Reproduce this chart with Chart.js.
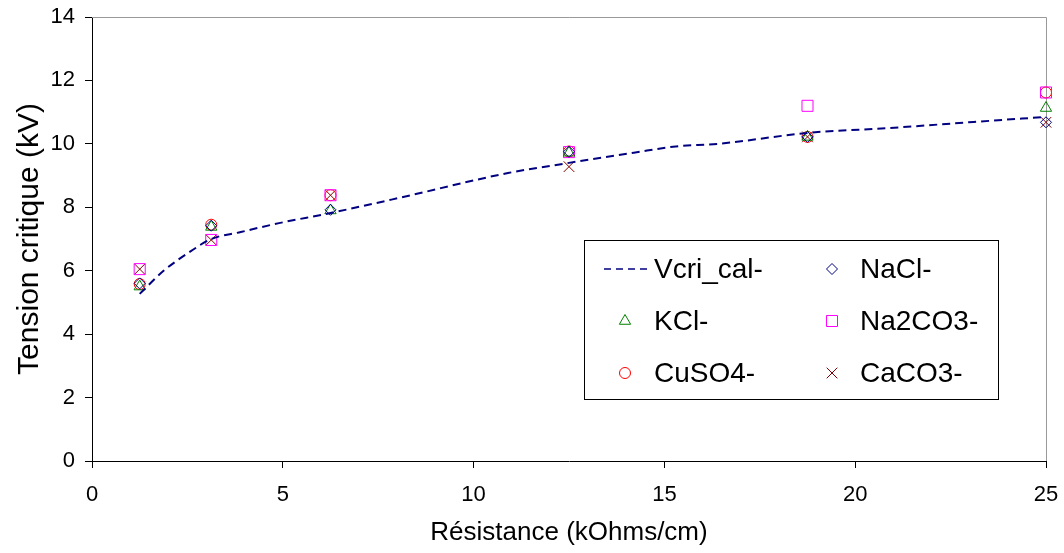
<!DOCTYPE html>
<html lang="fr">
<head>
  <meta charset="UTF-8">
  <title>Tension critique</title>
  <script src="https://cdn.jsdelivr.net/npm/chart.js"></script>
  <style>
    body { margin: 0; background: #fff; }
    #wrap { width: 1064px; height: 553px; }
  </style>
</head>
<body>
  <div id="wrap"><canvas id="c" width="1064" height="553"></canvas></div>
  <script>
    // values
    const resistance = [1.25, 3.125, 6.25, 12.5, 18.75, 25];
    const naCl   = [5.6, 7.42, 7.92, 9.75, 10.22, 10.68];
    const kCl    = [5.5, 7.38, 7.9, 9.72, 10.22, 11.13];
    const na2CO3 = [6.05, 6.97, 8.38, 9.74, 11.2, 11.62];
    const cuSO4  = [5.58, 7.45, 8.38, 9.76, 10.22, 11.62];
    const caCO3  = [6.05, 6.97, 8.38, 9.28, 10.22, 10.68];

    // calculated curve
    const calX = [1.25, 1.86, 2.57, 3.125, 3.9, 4.9, 6.25, 8.1, 10.9, 12.5, 14.2, 15.3, 16.4, 18.8, 20.9, 23.1, 25];
    const calY = [5.27, 5.98, 6.6, 7.0, 7.22, 7.5, 7.82, 8.31, 9.08, 9.4, 9.72, 9.92, 10.0, 10.35, 10.5, 10.69, 10.85];

    const xTicks = [0, 5, 10, 15, 20, 25];
    const yTicks = [0, 2, 4, 6, 8, 10, 12, 14];

    const pts = (xs, ys) => xs.map((x, i) => ({ x: x, y: ys[i] }));
    const font = 'Arial, "Liberation Sans", sans-serif';

    function marker(label, ys, style, color, r) {
      return {
        label: label,
        data: pts(resistance, ys),
        showLine: false,
        clip: false,
        pointStyle: style,
        pointRadius: r,
        pointBorderColor: color,
        pointBackgroundColor: 'rgba(0,0,0,0)',
        pointBorderWidth: 1,
        borderColor: color
      };
    }

    const datasets = [
      {
        label: 'Vcri_cal-',
        data: pts(calX, calY),
        showLine: true,
        borderColor: '#000080',
        borderWidth: 2,
        borderDash: [8, 5],
        pointRadius: 0,
        cubicInterpolationMode: 'monotone'
      },
      marker('NaCl-', naCl, 'rectRot', '#000080', 5.5),
      marker('KCl-', kCl, 'triangle', '#008000', 6.5),
      marker('Na2CO3-', na2CO3, 'rect', '#ff00ff', 7.8),
      marker('CuSO4-', cuSO4, 'circle', '#ff0000', 5.5),
      marker('CaCO3-', caCO3, 'crossRot', '#800000', 7.5)
    ];

    // grey frame on top and right of the plot, like the original
    const frame = {
      id: 'frame',
      beforeDatasetsDraw(chart) {
        const a = chart.chartArea, ctx = chart.ctx;
        ctx.save();
        ctx.strokeStyle = '#999';
        ctx.lineWidth = 1;
        ctx.beginPath();
        ctx.moveTo(a.left, a.top + 0.5);
        ctx.lineTo(a.right + 0.5, a.top + 0.5);
        ctx.lineTo(a.right + 0.5, a.bottom);
        ctx.stroke();
        ctx.restore();
      }
    };

    // boxed two-column legend inside the plot
    const boxLegend = {
      id: 'boxLegend',
      afterDraw(chart) {
        const ctx = chart.ctx;
        const rows = [269, 321, 373];
        ctx.save();
        ctx.fillStyle = '#fff';
        ctx.fillRect(584, 240, 414, 159);
        ctx.strokeStyle = '#000';
        ctx.lineWidth = 1;
        ctx.strokeRect(584.5, 240.5, 414, 159);
        ctx.font = '28px ' + font;
        ctx.textBaseline = 'middle';
        chart.data.datasets.forEach((ds, i) => {
          const col = i % 2, y = rows[Math.floor(i / 2)];
          const mx = col ? 832 : 625;
          if (ds.showLine) {
            ctx.save();
            ctx.strokeStyle = ds.borderColor;
            ctx.lineWidth = 1.5;
            ctx.setLineDash([7, 5]);
            ctx.beginPath();
            ctx.moveTo(604, y);
            ctx.lineTo(648, y);
            ctx.stroke();
            ctx.restore();
          } else {
            ctx.save();
            ctx.strokeStyle = ds.pointBorderColor;
            ctx.fillStyle = 'rgba(0,0,0,0)';
            Chart.helpers.drawPoint(ctx, {
              pointStyle: ds.pointStyle,
              radius: ds.pointRadius,
              borderWidth: 1,
              rotation: 0
            }, mx, y);
            ctx.restore();
          }
          ctx.fillStyle = '#000';
          ctx.fillText(ds.label, col ? 860 : 654, y + 1);
        });
        ctx.restore();
      }
    };

    new Chart(document.getElementById('c'), {
      type: 'scatter',
      data: { datasets: datasets },
      options: {
        responsive: false,
        animation: false,
        layout: { padding: { left: 0, top: 17, right: 18, bottom: 0 } },
        plugins: {
          legend: { display: false },
          tooltip: { enabled: false }
        },
        scales: {
          x: {
            type: 'linear',
            min: 0,
            max: 25,
            afterFit: s => { s.height = 92; s.paddingLeft = 0; s.paddingRight = 0; },
            afterBuildTicks: s => { s.ticks = xTicks.map(v => ({ value: v })); },
            grid: { drawOnChartArea: false, drawTicks: true, tickLength: 7, color: '#000' },
            border: { color: '#000', width: 1 },
            ticks: { color: '#000', padding: 14, font: { family: font, size: 22 } },
            title: {
              display: true,
              text: 'Résistance (kOhms/cm)',
              color: '#000',
              font: { family: font, size: 26 },
              padding: { top: 0, bottom: 5 }
            }
          },
          y: {
            min: 0,
            max: 14,
            afterFit: s => { s.width = 92; s.paddingTop = 0; s.paddingBottom = 0; },
            afterBuildTicks: s => { s.ticks = yTicks.map(v => ({ value: v })); },
            grid: { drawOnChartArea: false, drawTicks: true, tickLength: 7, color: '#000' },
            border: { color: '#000', width: 1 },
            ticks: { color: '#000', padding: 10, font: { family: font, size: 22 } },
            title: {
              display: true,
              text: 'Tension critique (kV)',
              color: '#000',
              font: { family: font, size: 30 },
              padding: { top: 12, bottom: 0 }
            }
          }
        }
      },
      plugins: [frame, boxLegend]
    });
  </script>
</body>
</html>
